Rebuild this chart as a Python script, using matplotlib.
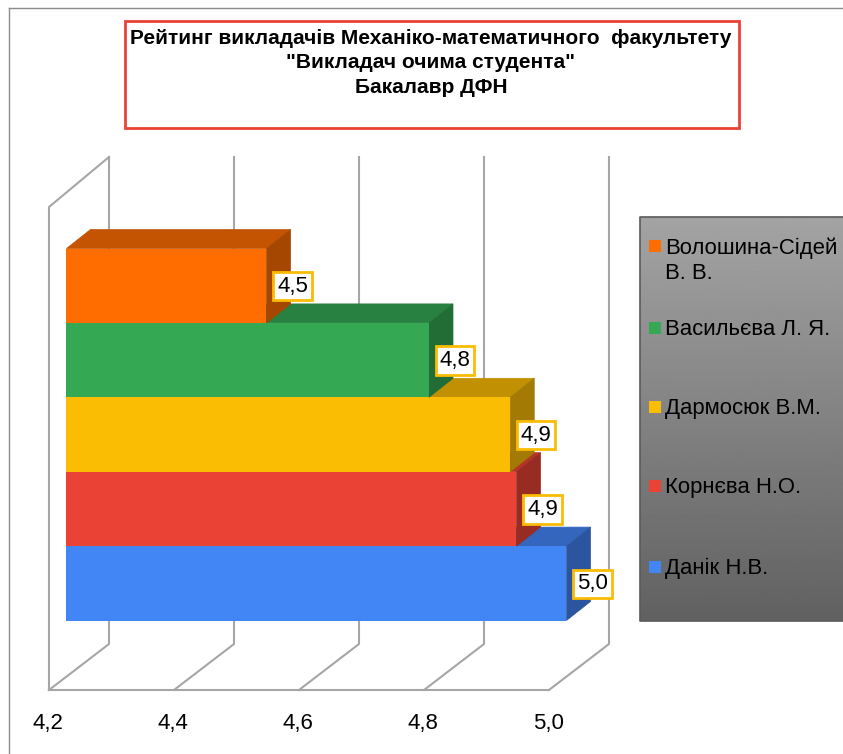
import numpy as np
from matplotlib import pyplot as plt
from matplotlib.colors import to_rgb
from matplotlib.patches import Polygon, Rectangle

plt.rcParams['font.family'] = ['Liberation Sans', 'DejaVu Sans']

# bottom to top, as the bars stand on the chart
names = ['Данік Н.В.', 'Корнєва Н.О.', 'Дармосюк В.М.', 'Васильєва Л. Я.', 'Волошина-Сідей\nВ. В.']
scores = [5.0, 4.92, 4.91, 4.78, 4.52]
colors = ['#4285f4', '#ea4335', '#fbbc04', '#34a853', '#ff6d01']
ticks = [4.2, 4.4, 4.6, 4.8, 5.0]
title = 'Рейтинг викладачів Механіко-математичного  факультету\n"Викладач очима студента"\nБакалавр ДФН'

W, H = 843, 754
PX_PER_VALUE = 625.0
PX_PER_BAR = 74.4
BAR_X0 = 66.5     # pixel of 4.2 on the front of the bars
BAR_Y0 = 620.5    # pixel of the bottom of the lowest bar


def shade(color, k):
    return tuple(c * k for c in to_rgb(color))


def px(x_pixels):
    # pixel distance along x -> value units
    return x_pixels / PX_PER_VALUE


def py(y_pixels):
    # pixel distance along y -> bar units
    return y_pixels / PX_PER_BAR


fig = plt.figure(figsize=(W / 100, H / 100), dpi=100)
ax = fig.add_axes([0, 0, 1, 1])
ax.set_xlim(ticks[0] - px(BAR_X0), ticks[0] + px(W - BAR_X0))
ax.set_ylim(-py(H - BAR_Y0), py(BAR_Y0))
ax.axis('off')

# the page frame, only left and top are visible in the screenshot
grey_frame = '#8c8c8c'
ax.plot([ticks[0] - px(BAR_X0 - 9)] * 2, [-py(H - BAR_Y0), py(BAR_Y0 - 8)], color=grey_frame, lw=1)
ax.plot([ticks[0] - px(BAR_X0 - 9), ticks[0] + px(W - BAR_X0)], [py(BAR_Y0 - 8)] * 2, color=grey_frame, lw=1)

# walls and floor
wall = '#a6a6a6'
front = -px(BAR_X0 - 49)
back = front + px(60)
floor_y = -py(690 - BAR_Y0)
back_y = py(BAR_Y0 - 644)
top_y = py(BAR_Y0 - 157)
for t in ticks:
    ax.plot([t + front, t + back, t + back], [floor_y, back_y, top_y], color=wall, lw=1.5, zorder=1)
ax.plot([ticks[0] + front, ticks[-1] + front], [floor_y, floor_y], color=wall, lw=1.5, zorder=1)
ax.plot([ticks[0] + front, ticks[0] + front, ticks[0] + back],
        [floor_y, py(BAR_Y0 - 207), top_y], color=wall, lw=1.5, zorder=1)

for t in ticks:
    ax.text(t + front - px(1), -py(724 - BAR_Y0), f'{t:.1f}'.replace('.', ','),
            ha='center', va='center', fontsize=16, color='black')

# bars, the lower ones go first so the upper sides cover their tops
dx, dy = px(24), py(19)
for i, (score, color) in enumerate(zip(scores, colors)):
    z = 2 + i
    top_color = shade(color, 0.77)
    side_color = shade(color, 0.65)
    ax.add_patch(Polygon([(ticks[0], i + 1), (score, i + 1), (score + dx, i + 1 + dy), (ticks[0] + dx, i + 1 + dy)],
                         closed=True, facecolor=top_color, edgecolor=top_color, linewidth=0.5, zorder=z))
    ax.add_patch(Polygon([(score, i), (score, i + 1), (score + dx, i + 1 + dy), (score + dx, i + dy)],
                         closed=True, facecolor=side_color, edgecolor=side_color, linewidth=0.5, zorder=z + 0.1))
    ax.barh(i, score - ticks[0], left=ticks[0], height=1, align='edge', color=color, zorder=z + 0.2)

# value labels sit after all bars
for i, score in enumerate(scores):
    ax.text(score + px(26), i + 0.5 - py(0.5), f'{score:.1f}'.replace('.', ','), ha='center', va='center',
            fontsize=16, color='black', zorder=20,
            bbox=dict(boxstyle='square,pad=0.17', facecolor='white', edgecolor='#fbbc04', linewidth=2))

# title box
ax_title = fig.add_axes([0, 0, 1, 1])
ax_title.set_xlim(0, W)
ax_title.set_ylim(H, 0)
ax_title.axis('off')
ax_title.patch.set_alpha(0)
ax_title.add_patch(Rectangle((124.5, 21), 614, 107, facecolor='white', edgecolor='#ea4335', linewidth=2))
ax_title.text(431, 63, title, ha='center', va='center', fontsize=15, fontweight='bold',
              color='black', linespacing=1.35)

# legend panel with the grey gradient
gradient = np.linspace(0.64, 0.38, 256).reshape(-1, 1)
ax_title.imshow(gradient, cmap='gray', vmin=0, vmax=1, extent=(640, W + 2, 621, 217), aspect='auto', zorder=1)
ax_title.set_xlim(0, W)
ax_title.set_ylim(H, 0)
ax_title.plot([W + 2, 640, 640, W + 2], [217, 217, 621, 621], color='#5a5a5a', lw=1.2, zorder=2)

legend_y = [568.5, 487.5, 408.5, 329.5, 261]
marker_y = [567, 486, 407, 328, 246]
for name, color, y, my in zip(names, colors, legend_y, marker_y):
    ax_title.add_patch(Rectangle((649, my - 6), 12, 12, facecolor=color, edgecolor='none', zorder=3))
    ax_title.text(665, y, name, ha='left', va='center', fontsize=15.9, color='black', zorder=3, linespacing=1.22)

fig.savefig('out.png', dpi=100)
